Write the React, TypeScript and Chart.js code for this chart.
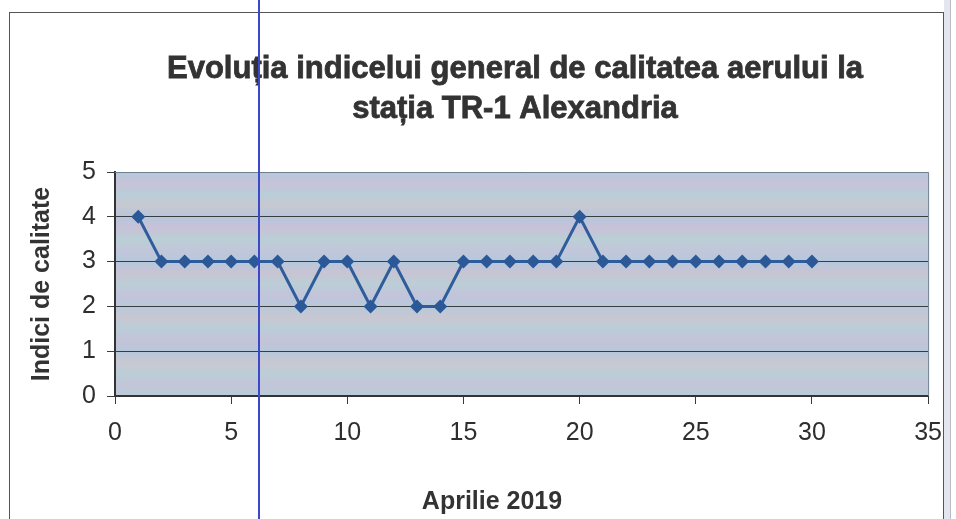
import React, { useEffect, useRef } from "react";
import { Chart, registerables } from "chart.js";

Chart.register(...registerables);

const days = [1, 2, 3, 4, 5, 6, 7, 8, 9, 10, 11, 12, 13, 14, 15, 16, 17, 18, 19, 20, 21, 22, 23, 24, 25, 26, 27, 28, 29, 30];
const indexValues = [4, 3, 3, 3, 3, 3, 3, 2, 3, 3, 2, 3, 2, 2, 3, 3, 3, 3, 3, 4, 3, 3, 3, 3, 3, 3, 3, 3, 3, 3];
const xTickValues = [0, 5, 10, 15, 20, 25, 30, 35];
const yTickValues = [0, 1, 2, 3, 4, 5];
const titleLines = ["Evoluția indicelui general de calitatea aerului la", "stația TR-1 Alexandria"];
const xAxisTitle = "Aprilie 2019";
const yAxisTitle = "Indici de calitate";

const stripeColors = [
  "#b6c9da", "#c7c3d9", "#b9cdd8", "#c8c8d0", "#b5c6dc", "#c8c2d8", "#bacfd6",
  "#c2c6da", "#b6c8dc", "#c8c4d4", "#bbced6", "#c3c4da", "#b7c9da", "#c8c7d2",
  "#bacdd8", "#c5c3d8", "#b7c8da", "#c9c8d2", "#bbced6", "#c3c5d9", "#b9cbd8",
];

const FONT = "'Liberation Sans', Arial, sans-serif";

export default function App() {
  const ref = useRef<HTMLCanvasElement | null>(null);

  useEffect(() => {
    if (!ref.current) return;
    const bgPlugin = {
      id: "bgPlugin",
      beforeDraw(chart: any) {
        const { ctx, chartArea } = chart;
        const { left, top, right, bottom } = chartArea;
        ctx.save();
        const g = ctx.createLinearGradient(0, top, 0, bottom);
        stripeColors.forEach((c, i) => g.addColorStop(i / (stripeColors.length - 1), c));
        ctx.fillStyle = g;
        ctx.fillRect(left, top, right - left, bottom - top);
        ctx.restore();
      },
      afterDraw(chart: any) {
        const { ctx, chartArea } = chart;
        const { left, top, right, bottom } = chartArea;
        ctx.save();
        ctx.strokeStyle = "#6f7f8f";
        ctx.lineWidth = 1;
        ctx.beginPath();
        ctx.moveTo(left, top + 0.5);
        ctx.lineTo(right + 0.5, top + 0.5);
        ctx.lineTo(right + 0.5, bottom);
        ctx.stroke();
        ctx.fillStyle = "#333333";
        ctx.strokeStyle = "#333333";
        ctx.lineWidth = 0.8;
        ctx.textAlign = "center";
        ctx.textBaseline = "alphabetic";
        ctx.font = `bold 31px ${FONT}`;
        ctx.fillText(titleLines[0], 515, 78);
        ctx.strokeText(titleLines[0], 515, 78);
        ctx.fillText(titleLines[1], 515, 118);
        ctx.strokeText(titleLines[1], 515, 118);
        ctx.font = `bold 25px ${FONT}`;
        ctx.textBaseline = "middle";
        ctx.fillText(xAxisTitle, 492, 502);
        ctx.restore();
      },
    };

    const chart = new Chart(ref.current, {
      type: "line",
      data: {
        datasets: [
          {
            data: days.map((d, i) => ({ x: d, y: indexValues[i] })),
            borderColor: "#2f5d9b",
            backgroundColor: "#2b5896",
            borderWidth: 3,
            pointStyle: "rectRot",
            pointRadius: 7,
            pointBorderWidth: 0,
            pointBackgroundColor: "#2b5896",
            tension: 0,
          },
        ],
      },
      options: {
        animation: false,
        responsive: false,
        layout: { padding: { left: 9, top: 172, right: 23, bottom: 0 } },
        plugins: {
          legend: { display: false },
          title: { display: false },
          tooltip: { enabled: false },
        },
        scales: {
          x: {
            type: "linear",
            min: 0,
            max: 35,
            afterFit: (s: any) => {
              s.height = 123;
            },
            afterBuildTicks: (s: any) => {
              s.ticks = xTickValues.map((v) => ({ value: v }));
            },
            ticks: {
              color: "#2e2e2e",
              font: { family: FONT, size: 25 },
              padding: 14,
              maxRotation: 0,
              autoSkip: false,
            },
            grid: {
              drawOnChartArea: false,
              drawTicks: true,
              tickLength: 8,
              color: "#3a3a3a",
            },
            border: { display: true, color: "#333333", width: 2 },
          },
          y: {
            type: "linear",
            min: 0,
            max: 5,
            afterFit: (s: any) => {
              s.width = 106;
            },
            afterBuildTicks: (s: any) => {
              s.ticks = yTickValues.map((v) => ({ value: v }));
            },
            ticks: {
              color: "#2e2e2e",
              font: { family: FONT, size: 25 },
              padding: 11,
            },
            grid: {
              color: "#3c3c3c",
              lineWidth: 1,
              drawTicks: true,
              tickLength: 8,
            },
            border: { display: true, color: "#333333", width: 2 },
            title: {
              display: true,
              text: yAxisTitle,
              color: "#333333",
              font: { family: FONT, size: 25, weight: "bold" },
              padding: { top: 18, bottom: 0 },
            },
          },
        },
      },
      plugins: [bgPlugin],
    });
    return () => chart.destroy();
  }, []);

  return (
    <div style={{ position: "fixed", left: 0, top: 0, width: 956, height: 519, background: "#ffffff", overflow: "hidden" }}>
      <canvas ref={ref} width={956} height={519} style={{ position: "absolute", left: 0, top: 0, width: 956, height: 519 }} />
      <div style={{ position: "absolute", left: 9, top: 12, width: 933, height: 520, border: "1px solid #555", borderBottom: "none", pointerEvents: "none" }} />
      <div style={{ position: "absolute", left: 944, top: 0, width: 6, height: 519, background: "#e3e5ef", borderRight: "1px solid #b8bac4", pointerEvents: "none" }} />
      <div style={{ position: "absolute", left: 258, top: 0, width: 2, height: 519, background: "#3b48c9", pointerEvents: "none" }} />
    </div>
  );
}
